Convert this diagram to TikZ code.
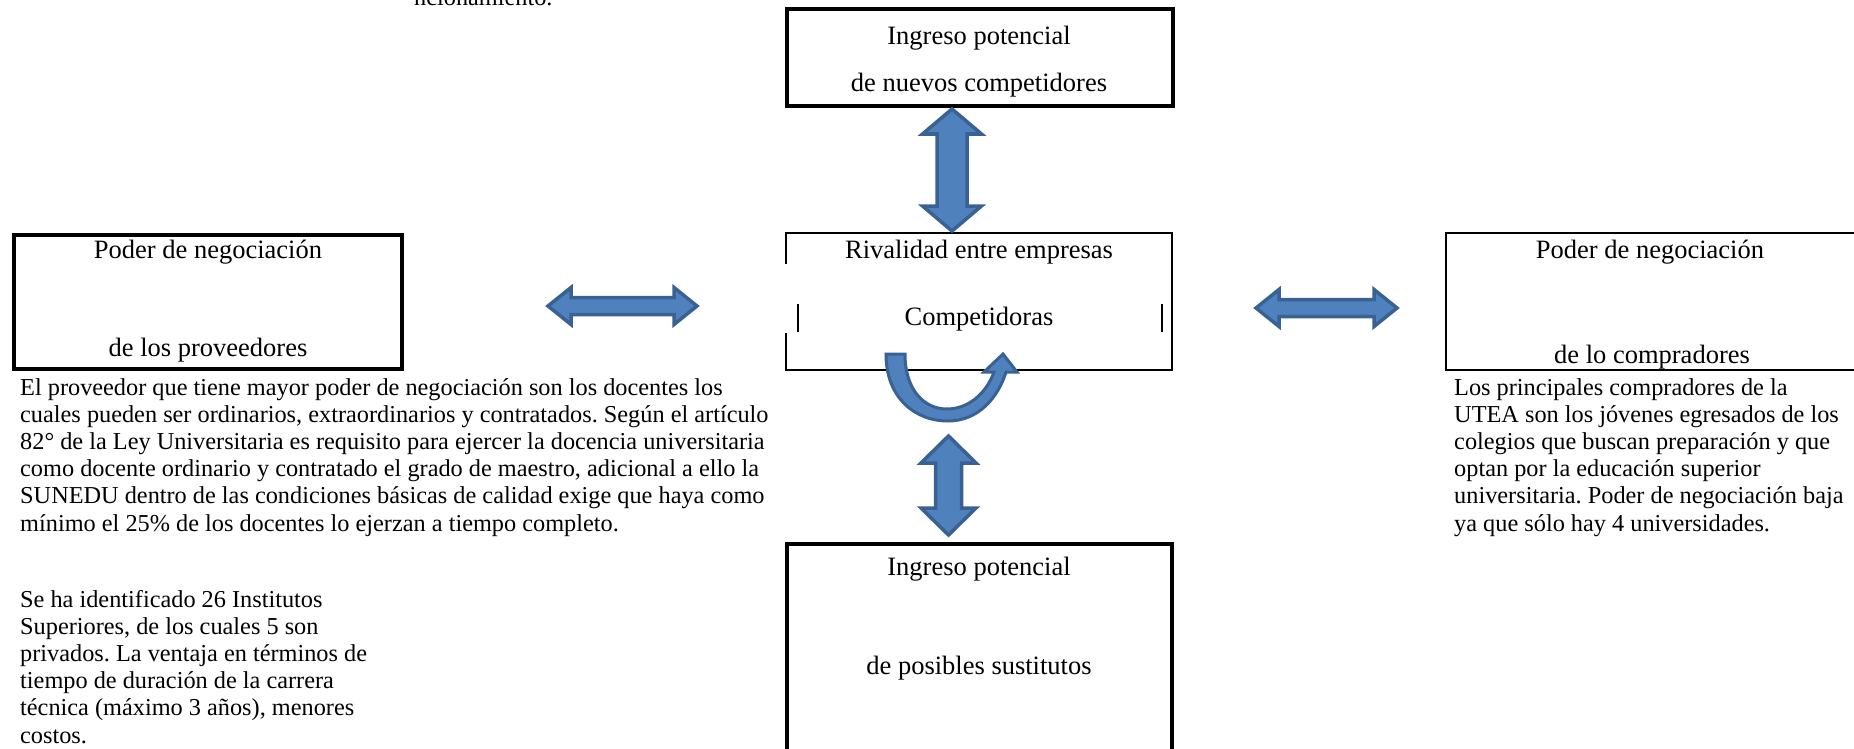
\documentclass[tikz,border=0pt]{standalone}
\usepackage{fontspec}
\setmainfont{Liberation Serif}
\frenchspacing
\definecolor{afill}{HTML}{4F81BD}
\definecolor{aline}{HTML}{3A6194}
\newcommand{\bodyfont}{\fontsize{24.3}{27.2}\selectfont}
\newcommand{\boxfont}{\fontsize{26.5}{30}\selectfont}
\newcommand{\vdblarrow}[6]{% cx, ytop, ybot, head, halfhead, halfshaft
  \draw[blockarrow] (#1,#2) -- ({#1+#5},{#2+#4}) -- ({#1+#6},{#2+#4}) -- ({#1+#6},{#3-#4}) -- ({#1+#5},{#3-#4}) -- (#1,#3) -- ({#1-#5},{#3-#4}) -- ({#1-#6},{#3-#4}) -- ({#1-#6},{#2+#4}) -- ({#1-#5},{#2+#4}) -- cycle;}
\newcommand{\hdblarrow}[6]{% xl, xr, cy, head, halfhead, halfshaft
  \draw[blockarrow] (#1,#3) -- ({#1+#4},{#3-#5}) -- ({#1+#4},{#3-#6}) -- ({#2-#4},{#3-#6}) -- ({#2-#4},{#3-#5}) -- (#2,#3) -- ({#2-#4},{#3+#5}) -- ({#2-#4},{#3+#6}) -- ({#1+#4},{#3+#6}) -- ({#1+#4},{#3+#5}) -- cycle;}
\begin{document}
\begin{tikzpicture}[x=1pt,y=-1pt,
  thickbox/.style={draw=black,line width=3.5pt},
  thinbox/.style={draw=black,line width=2pt},
  lbl/.style={font=\boxfont,anchor=base,inner sep=0},
  para/.style={font=\bodyfont,anchor=base west,inner sep=0},
  blockarrow/.style={fill=afill,draw=aline,line width=3.5pt,line join=miter}]
\useasboundingbox (0,0) rectangle (1854,749);
\clip (0,0) rectangle (1854,749);
\fill[white] (0,0) rectangle (1854,749);

% clipped text at top
\node[para] (topcut) at (414,6) {ncionamiento.};

% top box
\draw[thickbox] (787,9) rectangle (1173,106);
\node[lbl] (t1) at (979,45) {Ingreso potencial};
\node[lbl] (t2) at (979,92) {de nuevos competidores};

% middle box
\draw[thinbox] (786,264) -- (786,233) -- (1172,233) -- (1172,370) -- (786,370) -- (786,333);
\draw[thinbox] (798,304) -- (798,332);
\draw[thinbox] (1162,304) -- (1162,332);
\node[lbl] (m1) at (979,258) {Rivalidad entre empresas};
\node[lbl] (m2) at (979,325) {Competidoras};

% left box
\draw[thickbox] (14,235) rectangle (402,369);
\node[lbl] (l1) at (208,258) {Poder de negociación};
\node[lbl] (l2) at (208,356) {de los proveedores};

% right box
\draw[thinbox] (1870,233) -- (1446,233) -- (1446,370) -- (1870,370);
\node[lbl] (r1) at (1650,258) {Poder de negociación};
\node[lbl] (r2) at (1652,363) {de lo compradores};

% bottom box
\draw[thickbox] (787,770) -- (787,544) -- (1172,544) -- (1172,770);
\node[lbl] (b1) at (979,575) {Ingreso potencial};
\node[lbl] (b2) at (979,674) {de posibles sustitutos};

% block arrows
\vdblarrow{952}{109}{231}{25}{29.5}{15}
\vdblarrow{948.5}{436}{535}{27}{27.5}{13}
\hdblarrow{548}{697}{306}{23}{18.5}{8.5}
\hdblarrow{1256}{1397}{308}{23}{18.5}{8.5}

% U-turn arrow
\draw[blockarrow,line width=3pt] (886,354) .. controls (886,398) and (915,421) .. (948,421)
  .. controls (978,421) and (998,398) .. (1006,372) -- (1017,372) -- (1003,354) -- (984,372) -- (994,372)
  .. controls (986,394) and (968,409) .. (947,409)
  .. controls (924,409) and (905,390) .. (905,354) -- cycle;

% paragraphs
\node[para] (prov) at (20,395) {\parbox[t]{900pt}{El proveedor que tiene mayor poder de negociación son los docentes los\\
cuales pueden ser ordinarios, extraordinarios y contratados. Según el artículo\\
82° de la Ley Universitaria es requisito para ejercer la docencia universitaria\\
como docente ordinario y contratado el grado de maestro, adicional a ello la\\
SUNEDU dentro de las condiciones básicas de calidad exige que haya como\\
mínimo el 25\% de los docentes lo ejerzan a tiempo completo.}};

\node[para] (comp) at (1454,395) {\parbox[t]{500pt}{Los principales compradores de la\\
UTEA son los jóvenes egresados de los\\
colegios que buscan preparación y que\\
optan por la educación superior\\
universitaria. Poder de negociación baja\\
ya que sólo hay 4 universidades.}};

\node[para] (sust) at (20,607) {\parbox[t]{500pt}{Se ha identificado 26 Institutos\\
Superiores, de los cuales 5 son\\
privados. La ventaja en términos de\\
tiempo de duración de la carrera\\
técnica (máximo 3 años), menores\\
costos.}};
\end{tikzpicture}
\end{document}
